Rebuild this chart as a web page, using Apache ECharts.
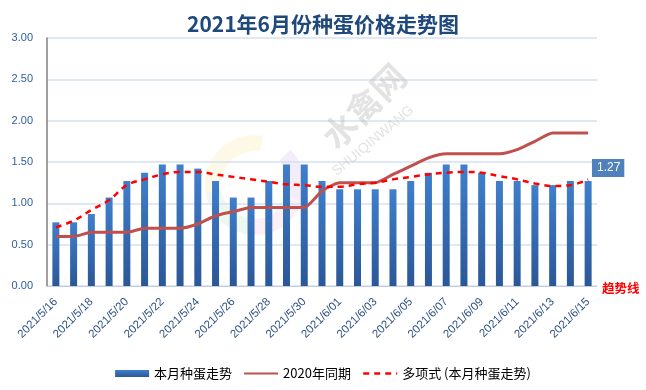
<!DOCTYPE html>
<html><head><meta charset="utf-8">
<script src="https://cdn.jsdelivr.net/npm/echarts@6/dist/echarts.min.js"></script>
<style>html,body{margin:0;padding:0;background:#fff}#c{width:646px;height:390px}</style>
</head><body><div id="c"></div>
<script>
const categories = ['2021/5/16','2021/5/17','2021/5/18','2021/5/19','2021/5/20','2021/5/21','2021/5/22','2021/5/23','2021/5/24','2021/5/25','2021/5/26','2021/5/27','2021/5/28','2021/5/29','2021/5/30','2021/5/31','2021/6/01','2021/6/02','2021/6/03','2021/6/04','2021/6/05','2021/6/06','2021/6/07','2021/6/08','2021/6/09','2021/6/10','2021/6/11','2021/6/12','2021/6/13','2021/6/14','2021/6/15'];
const thisMonth = [0.77,0.77,0.87,1.07,1.27,1.37,1.47,1.47,1.42,1.27,1.07,1.07,1.27,1.47,1.47,1.27,1.17,1.17,1.17,1.17,1.27,1.37,1.47,1.47,1.37,1.27,1.27,1.22,1.22,1.27,1.27];
const lastYear = [0.60,0.60,0.65,0.65,0.65,0.70,0.70,0.70,0.75,0.85,0.90,0.95,0.95,0.95,0.95,1.15,1.25,1.25,1.25,1.35,1.45,1.55,1.60,1.60,1.60,1.60,1.65,1.75,1.85,1.85,1.85];
const trend = [0.71,0.79,0.92,1.04,1.22,1.29,1.35,1.38,1.38,1.35,1.32,1.29,1.26,1.23,1.22,1.20,1.20,1.23,1.25,1.29,1.32,1.35,1.37,1.38,1.37,1.33,1.29,1.24,1.21,1.22,1.29];
const yTicks = [0, 0.5, 1, 1.5, 2, 2.5, 3];
const names = ['本月种蛋走势','2020年同期','多项式 (本月种蛋走势)'];

const chart = echarts.init(document.getElementById('c'));
const font = '"Noto Sans CJK SC", "Noto Sans", sans-serif';
const latin = '"Liberation Sans", Arial, sans-serif';
const lastIdx = thisMonth.length - 1;
const wm = 'rgba(185,185,185,0.4)';
chart.setOption({
  animation: false,
  textStyle: {fontFamily: font},
  title: {
    text: '2021年6月份种蛋价格走势图',
    left: 'center', top: 9,
    textStyle: {fontSize: 21, fontWeight: 'bold', color: '#1f497d', fontFamily: font}
  },
  grid: {left: 47, right: 49, top: 38, bottom: 104, containLabel: false},
  legend: {
    left: 'center', top: 362,
    itemGap: 11, itemWidth: 34, itemHeight: 7,
    textStyle: {fontSize: 13, color: '#000', fontFamily: font},
    data: [
      {name: names[0], icon: 'rect'},
      {name: names[1], itemStyle: {opacity: 0}, lineStyle: {width: 2}},
      {name: names[2], itemStyle: {opacity: 0}, lineStyle: {width: 2.5, type: [6, 5]}}
    ]
  },
  xAxis: {
    type: 'category', data: categories,
    axisLine: {lineStyle: {color: '#bfcfe3'}},
    axisTick: {show: false},
    axisLabel: {interval: 1, rotate: 45, fontSize: 11.5, color: '#2e5283', margin: 14, fontFamily: latin}
  },
  yAxis: {
    type: 'value', min: 0, max: 3, interval: 0.5,
    axisLine: {show: true, lineStyle: {color: '#808080', width: 1.5}},
    axisTick: {show: false},
    splitLine: {lineStyle: {color: '#d4e1ef', width: 1.5}},
    axisLabel: {fontSize: 11, color: '#2e5d9e', margin: 14, fontFamily: latin,
      formatter: v => yTicks.includes(v) ? v.toFixed(2) : ''}
  },
  graphic: [
    {type: 'group', left: 205, top: 135, z: 0, silent: true, children: [
      {type: 'arc', shape: {cx: 60, cy: 55, r: 42, startAngle: Math.PI*0.95, endAngle: Math.PI*1.55}, style: {stroke: 'rgba(250,200,60,0.13)', lineWidth: 16, fill: null}},
      {type: 'arc', shape: {cx: 60, cy: 55, r: 42, startAngle: Math.PI*0.55, endAngle: Math.PI*0.95}, style: {stroke: 'rgba(120,200,120,0.12)', lineWidth: 16, fill: null}},
      {type: 'arc', shape: {cx: 60, cy: 55, r: 42, startAngle: Math.PI*0.1, endAngle: Math.PI*0.55}, style: {stroke: 'rgba(230,120,170,0.12)', lineWidth: 16, fill: null}},
      {type: 'arc', shape: {cx: 60, cy: 55, r: 42, startAngle: Math.PI*1.75, endAngle: Math.PI*2.1}, style: {stroke: 'rgba(150,110,200,0.12)', lineWidth: 16, fill: null}}
    ]},
    {type: 'text', x: 364, y: 106, rotation: Math.PI/4, z: 100, silent: true,
      style: {text: '水禽网', fontSize: 34, fontWeight: 'bold', fill: wm, align: 'center', verticalAlign: 'middle', fontFamily: font}},
    {type: 'text', x: 373, y: 141, rotation: Math.PI*0.22, z: 100, silent: true,
      style: {text: 'SHUIQINWANG', fontSize: 14, fill: wm, align: 'center', verticalAlign: 'middle', fontFamily: latin}},
    {type: 'text', left: 602, top: 282, z: 10,
      style: {text: '趋势线', fontSize: 12.5, fontWeight: 'bold', fill: '#ff0000', fontFamily: font}}
  ],
  series: [
    {
      name: names[0], type: 'bar', barWidth: 7, z: 2,
      itemStyle: {color: new echarts.graphic.LinearGradient(0,0,0,1,[{offset:0,color:'#3f7fcc'},{offset:1,color:'#2b5797'}])},
      data: thisMonth.map((v, i) => i === lastIdx ? {value: v, label: {
        show: true, position: 'top', offset: [20, 0], distance: 4,
        backgroundColor: '#4f81bd', color: '#fff', fontSize: 12, padding: [3, 4, 3, 5],
        fontFamily: latin, formatter: p => p.value.toFixed(2)
      }} : v)
    },
    {
      name: names[1], type: 'line', symbol: 'none', smooth: 0.2, z: 3,
      lineStyle: {color: '#c0504d', width: 3},
      itemStyle: {color: '#c0504d'},
      data: lastYear
    },
    {
      name: names[2], type: 'line', symbol: 'none', smooth: 0.4, z: 4,
      lineStyle: {color: '#ff0000', width: 2.5, type: [6, 5]},
      itemStyle: {color: '#ff0000'},
      data: trend
    }
  ]
});
</script></body></html>
